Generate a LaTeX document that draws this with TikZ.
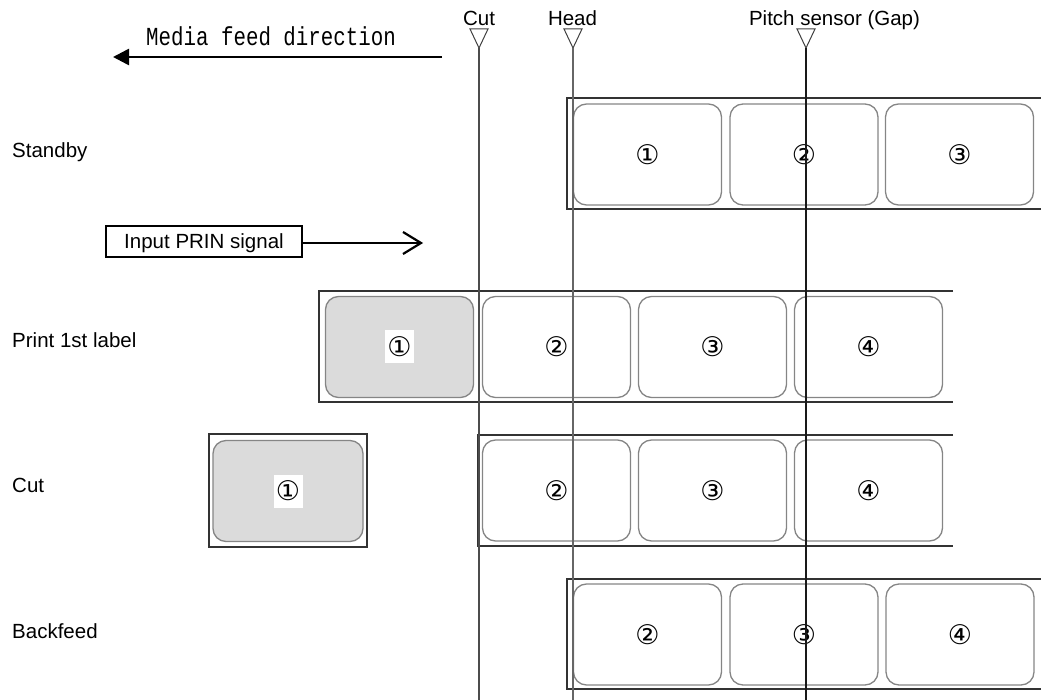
\documentclass[tikz,border=0pt]{standalone}
\usepackage{fontspec}
\setmainfont{Liberation Sans}
\newfontfamily\monof{Liberation Mono}
\newfontfamily\cjkf{DejaVu Sans}
\usetikzlibrary{arrows.meta}
\begin{document}
\begin{tikzpicture}[x=1pt,y=-1pt,
  txt/.style={font=\fontsize{20.5}{24}\selectfont, inner sep=0pt},
  strip/.style={draw=black!80, line width=1.5pt},
  lbl/.style={draw=black!48, line width=1.3pt, rounded corners=13pt, inner sep=0pt,
              minimum width=148pt, minimum height=101pt, font=\cjkf\fontsize{27}{30}\selectfont},
  graylbl/.style={lbl, fill=black!14},
  wnum/.style={font=\cjkf\fontsize{27}{30}\selectfont, inner sep=0pt, fill=white,
               minimum width=29pt, minimum height=33pt, text height=20pt, text depth=2pt},
  marker/.style={draw=black!75, line width=1pt, line join=miter},
  guide/.style={line width=1.1pt},
]
\useasboundingbox (0,0) rectangle (1041,700);

% ---- row titles
\node[txt, anchor=base west] (tStandby) at (12,158) {Standby};
\node[txt, anchor=base west] (tPrint) at (12,348) {Print 1st label};
\node[txt, anchor=base west] (tCut) at (12,492) {Cut};
\node[txt, anchor=base west] (tBack) at (12,638) {Backfeed};

% ---- media feed direction
\node[font=\monof\fontsize{26}{30}\selectfont, inner sep=0pt, anchor=base] (feed) at (271,46) {\scalebox{0.8}[1]{Media feed direction}};
\coordinate (feedR) at (442,57);
\coordinate (feedL) at (113,57);
\draw[line width=2.6pt, -{Triangle[length=16pt,width=16pt]}] (feedR) -- (feedL);

% ---- PRIN signal
\node[txt, draw, line width=1.1pt, minimum width=196pt, minimum height=31pt, inner sep=0pt,
      text height=14.7pt, text depth=0pt] (prin) at (204,241.5) {Input PRIN signal};
\coordinate (prinEnd) at (421,243);
\draw[line width=2.2pt] (prin.east |- prinEnd) -- (prinEnd);
\draw[line width=2.2pt, line join=miter] ([shift={(-18pt,11pt)}]prinEnd) -- (prinEnd) -- ([shift={(-18pt,-11pt)}]prinEnd);

% ---- Standby strip
\draw[strip] (1041,98) -- (567,98) -- (567,209) -- (1041,209);
\node[lbl] (s1) at (647.5,154.5) {①};
\node[lbl] (s2) at (804,154.5) {②};
\node[lbl] (s3) at (959.5,154.5) {③};

% ---- Print 1st label strip
\draw[strip] (953,291) -- (319,291) -- (319,402) -- (953,402);
\node[graylbl] (p1) at (399.5,347) {};
\node[wnum] (p1n) at (p1) {①};
\node[lbl] (p2) at (556.5,347) {②};
\node[lbl] (p3) at (712.5,347) {③};
\node[lbl] (p4) at (868.5,347) {④};

% ---- Cut row
\draw[strip] (209,434) rectangle (367,547);
\node[graylbl, minimum width=150pt] (c1) at (288,491) {};
\node[wnum] (c1n) at (c1) {①};
\draw[strip] (953,435) -- (478,435) -- (478,546) -- (953,546);
\node[lbl] (c2) at (556.5,490.5) {②};
\node[lbl] (c3) at (712.5,490.5) {③};
\node[lbl] (c4) at (868.5,490.5) {④};

% ---- Backfeed strip
\draw[strip] (1041,579) -- (567,579) -- (567,689) -- (1041,689);
\node[lbl] (b2) at (647.5,634.5) {②};
\node[lbl] (b3) at (804,634.5) {③};
\node[lbl] (b4) at (960,634.5) {④};

% ---- position markers
\node[txt, anchor=base] (mCut) at (479,26) {Cut};
\node[txt, anchor=base] (mHead) at (572.5,26) {Head};
\node[txt, anchor=base] (mPitch) at (834.5,26) {Pitch sensor (Gap)};

\draw[marker] (470,29) -- (488,29) -- (479,48) -- cycle;
\draw[marker] (564,29) -- (582,29) -- (573,48) -- cycle;
\draw[marker] (797,29) -- (815,29) -- (806,48) -- cycle;
\coordinate (cutTop) at (479,48);
\coordinate (headTop) at (573,48);
\coordinate (pitchTop) at (806,48);
\coordinate (cutBot) at (479,700);
\coordinate (headBot) at (573,700);
\coordinate (pitchBot) at (806,700);
\draw[guide, draw=black!70] (cutTop) -- (cutBot);
\draw[guide, draw=black!60] (headTop) -- (headBot);
\draw[guide, draw=black!90] (pitchTop) -- (pitchBot);
\end{tikzpicture}
\end{document}
